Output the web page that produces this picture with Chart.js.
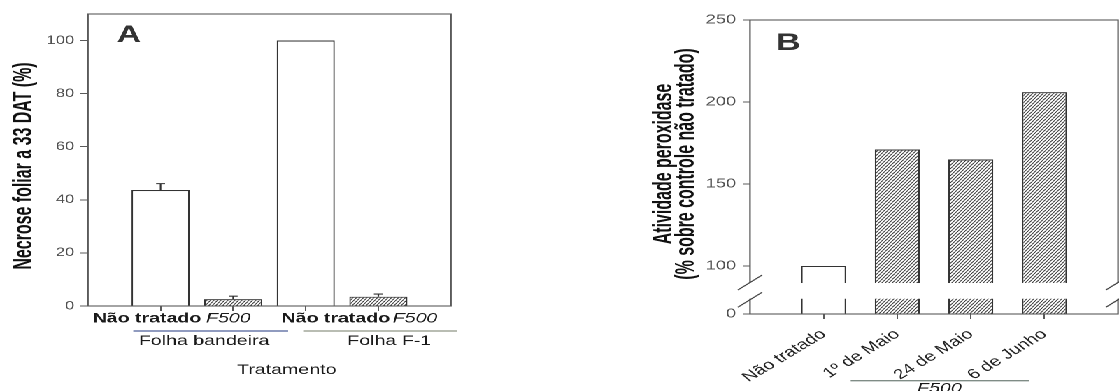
<!DOCTYPE html>
<html>
<head>
<meta charset="utf-8">
<script src="https://cdn.jsdelivr.net/npm/chart.js@4.4.1/dist/chart.umd.min.js"></script>
<style>
  html, body { margin: 0; padding: 0; background: #fff; overflow: hidden; }
  /* both panels are laid out on an 800px stage that is widened to the full page */
  #stage { position: absolute; left: 0; top: 0; width: 800px; height: 391px;
           transform-origin: 0 0; transform: scaleX(1.39875); }
  .panel { position: absolute; top: 0; width: 400px; height: 391px; }
  #pa { left: 0; }
  #pb { left: 400px; }
</style>
</head>
<body>
<div id="stage">
  <div class="panel" id="pa"><canvas id="ca"></canvas></div>
  <div class="panel" id="pb"><canvas id="cb"></canvas></div>
</div>
<script>
// ---- Panel A: necrose foliar ----
const leafTreatments = ['Não tratado', 'F500', 'Não tratado', 'F500'];
const leafGroups = ['Folha bandeira', 'Folha F-1'];
const necrosis = [43.7, 2.6, 100, 3.5];
const necrosisErr = [2.4, 1.1, 0, 1.0];
const necrosisTicks = [0, 20, 40, 60, 80, 100];
const leafAxisTitle = 'Tratamento';
const necrosisTitle = 'Necrose foliar a 33 DAT (%)';

// ---- Panel B: atividade peroxidase ----
const sprayDates = ['Não tratado', '1º de Maio', '24 de Maio', '6 de Junho'];
const peroxidase = [100, 171, 165, 206];
const peroxidaseTicks = [100, 150, 200, 250];
const peroxidaseBaseLabel = '0';
const sprayGroup = 'F500';
const peroxidaseTitle = ['Atividade peroxidase', '(% sobre controle não tratado)'];

// ---- styling ----
const FONT = '"Liberation Sans", Arial, Helvetica, sans-serif';
const frameColor = '#5a5a5a';
const barEdge = '#333';
const ink = '#1a1a1a';
const tickInk = '#505050';

function hatchPattern() {
  const res = 2, w = 5, h = 7;
  const c = document.createElement('canvas');
  c.width = w * res; c.height = h * res;
  const g = c.getContext('2d');
  g.scale(res, res);
  g.fillStyle = '#fff';
  g.fillRect(0, 0, w, h);
  g.strokeStyle = '#383838';
  g.lineWidth = 0.72;
  for (let k = -3; k <= 3; k++) {
    const o = k * 2.5;
    g.beginPath(); g.moveTo(o, h); g.lineTo(o + w, 0); g.stroke();
  }
  const p = g.createPattern(c, 'repeat');
  p.setTransform(new DOMMatrix().scale(1 / res));
  return p;
}
const hatch = hatchPattern();

function text(ctx, str, x, y, font, color, align, rot, squeeze) {
  ctx.save();
  ctx.translate(x, y);
  if (rot) ctx.rotate(rot);
  if (squeeze) ctx.scale(squeeze, 1);
  ctx.font = font;
  ctx.fillStyle = color;
  ctx.textAlign = align || 'center';
  ctx.textBaseline = 'alphabetic';
  ctx.fillText(str, 0, 0);
  ctx.restore();
}

// condensed bold used by the vertical axis titles
const titleFont = `bold 19px ${FONT}`;
const titleSqueeze = 0.84;

// ---------------- Panel A ----------------
const treatmentLabelAt = [0.813, 1.933, 3.414, 4.505];
const groupSpanA = [[0.624, 2.757], [2.965, 5.08]];
const groupLineColorA = ['#4d5f98', '#8e9585'];
const groupLabelAt = [1.60, 4.149];

const decorA = {
  id: 'decorA',
  afterDatasetsDraw(chart) {
    const { ctx, chartArea: a, scales: { x, y } } = chart;
    ctx.save();
    // frame
    ctx.strokeStyle = frameColor; ctx.lineWidth = 1.1;
    ctx.strokeRect(a.left, a.top, a.right - a.left, a.bottom - a.top);
    // error bars
    ctx.strokeStyle = barEdge; ctx.lineWidth = 1.1;
    necrosis.forEach((v, i) => {
      const e = necrosisErr[i];
      if (!e) return;
      const px = x.getPixelForValue(i + 1);
      const y0 = y.getPixelForValue(v), y1 = y.getPixelForValue(v + e);
      ctx.beginPath();
      ctx.moveTo(px, y0); ctx.lineTo(px, y1);
      ctx.moveTo(px - 3.2, y1); ctx.lineTo(px + 3.2, y1);
      ctx.stroke();
    });
    ctx.restore();
  },
  afterDraw(chart) {
    const { ctx, scales: { x } } = chart;
    leafTreatments.forEach((t, i) => {
      const f = i % 2 === 0 ? `bold 14px ${FONT}` : `italic 14px ${FONT}`;
      text(ctx, t, x.getPixelForValue(treatmentLabelAt[i]), 322.7, f, ink);
    });
    groupSpanA.forEach((s, i) => {
      ctx.save();
      ctx.strokeStyle = groupLineColorA[i]; ctx.lineWidth = 1.3;
      ctx.beginPath();
      ctx.moveTo(x.getPixelForValue(s[0]), 331);
      ctx.lineTo(x.getPixelForValue(s[1]), 331);
      ctx.stroke();
      ctx.restore();
      text(ctx, leafGroups[i], x.getPixelForValue(groupLabelAt[i]), 345, `14px ${FONT}`, ink);
    });
    text(ctx, leafAxisTitle, x.getPixelForValue(2.738), 374, `14px ${FONT}`, ink);
    text(ctx, necrosisTitle, 22.5, 166, titleFont, '#111', 'center', -Math.PI / 2, titleSqueeze);
    text(ctx, 'A', 92.2, 42, `bold 24px ${FONT}`, '#333');
  }
};

new Chart(document.getElementById('ca'), {
  type: 'bar',
  data: {
    datasets: [{
      data: necrosis.map((v, i) => ({ x: i + 1, y: v })),
      backgroundColor: ['#fff', hatch, '#fff', hatch],
      borderColor: barEdge,
      borderWidth: 1.1,
      borderSkipped: 'start',
      barPercentage: 0.8,
      categoryPercentage: 1
    }]
  },
  options: {
    responsive: true, maintainAspectRatio: false, animation: false, devicePixelRatio: 2,
    layout: { padding: { left: 0, right: 77.6, top: 14, bottom: 0 } },
    plugins: { legend: { display: false }, tooltip: { enabled: false } },
    scales: {
      x: {
        type: 'linear', min: 0, max: 5, offset: false,
        afterBuildTicks: s => { s.ticks = [1, 2, 3, 4].map(v => ({ value: v })); },
        afterFit: s => { s.height = 85; },
        grid: { drawOnChartArea: false, tickLength: 5, color: frameColor, offset: false },
        border: { display: false },
        ticks: { callback: () => '' }
      },
      y: {
        min: 0, max: 110,
        afterBuildTicks: s => { s.ticks = necrosisTicks.map(v => ({ value: v })); },
        afterFit: s => { s.width = 62.9; },
        grid: { drawOnChartArea: false, tickLength: 5.7, color: frameColor },
        border: { display: false },
        ticks: { color: tickInk, font: { family: FONT, size: 12 }, padding: 4 }
      }
    }
  },
  plugins: [decorA]
});

// ---------------- Panel B ----------------
const axisFloorB = 70.7;          // value shown as "0" under the axis break
const breakHi = 89.6, breakLo = 80;
const groupSpanB = [1.368, 3.79];
const groupLabelB = 2.573;

const decorB = {
  id: 'decorB',
  afterDatasetsDraw(chart) {
    const { ctx, chartArea: a, scales: { y } } = chart;
    ctx.save();
    ctx.strokeStyle = frameColor; ctx.lineWidth = 1.1;
    ctx.strokeRect(a.left, a.top, a.right - a.left, a.bottom - a.top);
    // axis break
    const yh = y.getPixelForValue(breakHi), yl = y.getPixelForValue(breakLo);
    ctx.fillStyle = '#fff';
    ctx.fillRect(a.left - 3, yh, a.right - a.left + 6, yl - yh);
    ctx.strokeStyle = '#444'; ctx.lineWidth = 1.1;
    [a.left, a.right].forEach(xx => {
      [yh - 0.5, yl + 1].forEach(yy => {
        ctx.beginPath();
        ctx.moveTo(xx - 8.7, yy + 7.5);
        ctx.lineTo(xx + 8.7, yy - 7.5);
        ctx.stroke();
      });
    });
    ctx.restore();
  },
  afterDraw(chart) {
    const { ctx, scales: { x } } = chart;
    ctx.save();
    ctx.strokeStyle = '#7f8c86'; ctx.lineWidth = 1.3;
    ctx.beginPath();
    ctx.moveTo(x.getPixelForValue(groupSpanB[0]), 380.7);
    ctx.lineTo(x.getPixelForValue(groupSpanB[1]), 380.7);
    ctx.stroke();
    ctx.restore();
    text(ctx, sprayGroup, x.getPixelForValue(groupLabelB), 392.5, `italic 14px ${FONT}`, ink);
    text(ctx, peroxidaseTitle[0], 80, 164, titleFont, '#111', 'center', -Math.PI / 2, titleSqueeze);
    text(ctx, peroxidaseTitle[1], 95.8, 164, titleFont, '#111', 'center', -Math.PI / 2, titleSqueeze);
    text(ctx, 'B', 163.7, 50, `bold 24px ${FONT}`, '#333');
  }
};

new Chart(document.getElementById('cb'), {
  type: 'bar',
  data: {
    datasets: [{
      data: peroxidase.map((v, i) => ({ x: i + 1, y: v })),
      backgroundColor: ['#fff', hatch, hatch, hatch],
      borderColor: barEdge,
      borderWidth: 1.1,
      borderSkipped: 'start',
      barPercentage: 0.61,
      categoryPercentage: 1
    }]
  },
  options: {
    responsive: true, maintainAspectRatio: false, animation: false, devicePixelRatio: 2,
    layout: { padding: { left: 0, right: 0.7, top: 20, bottom: 0 } },
    plugins: { legend: { display: false }, tooltip: { enabled: false } },
    scales: {
      x: {
        type: 'linear', min: 0, max: 5, offset: false,
        afterBuildTicks: s => { s.ticks = [1, 2, 3, 4].map(v => ({ value: v })); },
        afterFit: s => { s.height = 77; },
        grid: { drawOnChartArea: false, tickLength: 5, color: frameColor, offset: false },
        border: { display: false },
        ticks: {
          callback: v => sprayDates[v - 1] ?? '',
          autoSkip: false, minRotation: 40, maxRotation: 40, padding: 7,
          color: '#222', font: { family: FONT, size: 14 }
        }
      },
      y: {
        min: axisFloorB, max: 250,
        afterBuildTicks: s => { s.ticks = [{ value: axisFloorB }].concat(peroxidaseTicks.map(v => ({ value: v }))); },
        afterFit: s => { s.width = 136.2; },
        grid: { drawOnChartArea: false, tickLength: 5, color: frameColor },
        border: { display: false },
        ticks: {
          callback: v => (v === axisFloorB ? peroxidaseBaseLabel : String(v)),
          color: tickInk, font: { family: FONT, size: 13 }, padding: 5
        }
      }
    }
  },
  plugins: [decorB]
});
</script>
</body>
</html>
